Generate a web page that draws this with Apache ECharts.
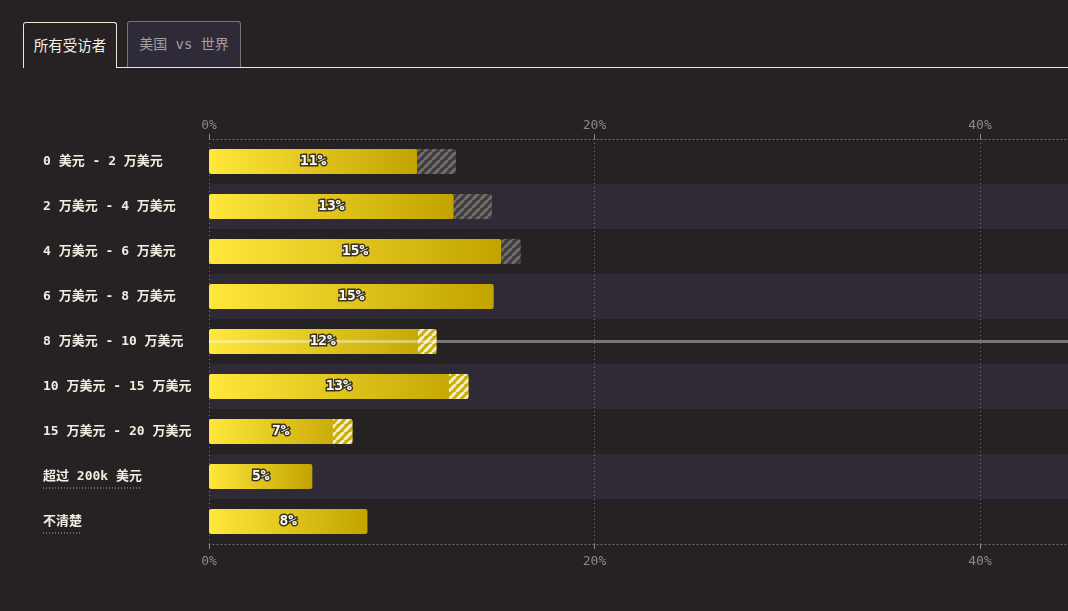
<!DOCTYPE html>
<html>
<head>
<meta charset="utf-8">
<script src="https://cdn.jsdelivr.net/npm/echarts@6/dist/echarts.min.js"></script>
<style>
  html, body { margin:0; padding:0; background:#262223; width:1068px; height:611px; overflow:hidden; }
  #chart { position:absolute; left:0; top:0; width:1068px; height:611px; }
  .tab { position:absolute; box-sizing:border-box; font-size:14.5px; display:flex; align-items:center; justify-content:center; padding-bottom:3px; }
  #tab1 { left:23px; top:22px; width:94px; height:46px; border:1px solid #ece6d4; border-bottom:none; border-radius:3px 3px 0 0; color:#f2ede0; background:#262223; z-index:3; font-family:"Noto Sans CJK SC","Noto Sans",sans-serif; }
  #tab2 { left:127px; top:21px; width:114px; height:46px; border:1px solid #78737b; border-bottom:none; border-radius:3px 3px 0 0; color:#a29ea2; background:#2f2a37; z-index:2; font-family:"DejaVu Sans Mono","Noto Sans CJK SC",monospace; font-size:14px; white-space:pre; }
  #baseline { position:absolute; left:116px; top:67px; width:952px; height:1px; background:#ece6d4; z-index:2; }
</style>
</head>
<body>
<div id="chart"></div>
<div class="tab" id="tab1">所有受访者</div>
<div class="tab" id="tab2">美国 vs 世界</div>
<div id="baseline"></div>
<script>
// ---- data ----
const categories = ['0 美元 - 2 万美元','2 万美元 - 4 万美元','4 万美元 - 6 万美元','6 万美元 - 8 万美元','8 万美元 - 10 万美元','10 万美元 - 15 万美元','15 万美元 - 20 万美元','超过 200k 美元','不清楚'];
const values   = [10.81, 12.70, 15.17, 14.77, 11.80, 13.46, 7.44, 5.36, 8.22];
const compare  = [12.81, 14.68, 16.17, 14.77, 10.84, 12.45, 6.43, 5.36, 8.22];
const underlined = ['超过 200k 美元', '不清楚'];
const highlighted = '8 万美元 - 10 万美元';
const xInterval = 20;

function makePattern(bg, fg, size, lw) {
  const c = document.createElement('canvas');
  c.width = size; c.height = size;
  const g = c.getContext('2d');
  g.fillStyle = bg; g.fillRect(0, 0, size, size);
  g.strokeStyle = fg; g.lineWidth = lw;
  g.beginPath();
  for (let k = -1; k <= 1; k++) {
    g.moveTo(k * size, size); g.lineTo(k * size + size, 0);
  }
  g.stroke();
  return c;
}
const greyHatch = makePattern('#403b3b', '#716d6d', 8, 3);
const whiteHatch = makePattern('#c8ad08', '#f4eec6', 8, 3);

const moreData  = values.map((v, i) => compare[i] > v ? +(compare[i] - v).toFixed(2) : '-');
const baseLess  = values.map((v, i) => compare[i] < v ? compare[i] : '-');
const lessData  = values.map((v, i) => compare[i] < v ? +(v - compare[i]).toFixed(2) : '-');

const mono = '"DejaVu Sans Mono","Noto Sans CJK SC",monospace';
const gradient = new echarts.graphic.LinearGradient(0, 0, 1, 0, [
  { offset: 0, color: '#ffe73c' }, { offset: 1, color: '#c2a300' }
]);

// the plot is wider than the window: 20% spans 385.5px, visible part ends at the window edge
const gridLeft = 209;
const pxPerUnit = 19.275;
const xMax = +((1068 - gridLeft) / pxPerUnit).toFixed(3);

const chart = echarts.init(document.getElementById('chart'));
const xAxisCommon = {
  type: 'value', min: 0, max: xMax, interval: xInterval,
  axisLine: { show: true, lineStyle: { color: '#7a7676', type: [1, 3], width: 1 } },
  axisTick: { show: true, length: 5, lineStyle: { color: '#8a8686' } },
  axisLabel: { color: '#8c8888', fontFamily: mono, fontSize: 13, showMaxLabel: false,
    formatter: v => (v % xInterval === 0 ? v + '%' : '') },
};
chart.setOption({
  backgroundColor: 'transparent',
  animation: false,
  grid: { left: gridLeft, top: 139, height: 405, right: 0 },
  xAxis: [
    Object.assign({}, xAxisCommon, { position: 'top',
      axisLabel: Object.assign({}, xAxisCommon.axisLabel, { margin: 7 }),
      splitLine: { show: true, lineStyle: { color: '#7a7676', type: [1, 3] } } }),
    Object.assign({}, xAxisCommon, { position: 'bottom',
      axisLabel: Object.assign({}, xAxisCommon.axisLabel, { margin: 11 }),
      splitLine: { show: false } })
  ],
  yAxis: {
    type: 'category', data: categories, inverse: true,
    axisLine: { show: false }, axisTick: { show: false },
    splitLine: { show: false },
    splitArea: { show: true, areaStyle: { color: ['rgba(0,0,0,0)', '#2f2a36'] } },
    axisLabel: { align: 'left', margin: 166, color: '#f2ede0', fontFamily: mono, fontWeight: 'bold', fontSize: 13, padding: [2, 0, 0, 0] }
  },
  series: [
    { type: 'bar', stack: 'a', data: values, barWidth: 25, barGap: '-100%', z: 2,
      itemStyle: { color: gradient, borderRadius: 2 } },
    { type: 'bar', stack: 'a', data: moreData, barWidth: 25, barGap: '-100%', z: 2,
      itemStyle: { color: { image: greyHatch, repeat: 'repeat' }, borderRadius: [0, 2, 2, 0] } },
    { type: 'bar', stack: 'b', data: baseLess, barWidth: 25, barGap: '-100%', z: 3,
      itemStyle: { color: 'rgba(0,0,0,0)' } },
    { type: 'bar', stack: 'b', data: lessData, barWidth: 25, barGap: '-100%', z: 3,
      itemStyle: { color: { image: whiteHatch, repeat: 'repeat' }, borderRadius: [0, 2, 2, 0] } },
    { type: 'bar', data: values, barWidth: 25, barGap: '-100%', z: 5,
      itemStyle: { color: 'rgba(0,0,0,0)' },
      label: { show: true, position: 'inside', formatter: p => Math.round(p.value) + '%',
        color: '#ffffff', fontFamily: mono, fontWeight: 'bold', fontSize: 14.5,
        textBorderColor: '#3a3322', textBorderWidth: 3, padding: [2, 0, 0, 0] },
      markLine: { silent: true, symbol: 'none', label: { show: false },
        lineStyle: { color: 'rgba(255,255,255,0.38)', width: 3, type: 'solid' },
        data: [{ yAxis: highlighted }] } }
  ]
});

// dotted underlines for some category labels
const mctx = document.createElement('canvas').getContext('2d');
mctx.font = 'bold 13px ' + mono;
const labelLeft = gridLeft - 166;
const graphics = underlined.map(name => {
  const y = chart.convertToPixel({ yAxisIndex: 0 }, name) + 11.5;
  const w = mctx.measureText(name).width;
  return { type: 'line', silent: true, shape: { x1: labelLeft, y1: y, x2: labelLeft + w, y2: y },
    style: { stroke: '#b5b0a8', lineWidth: 1, lineDash: [1, 2] } };
});
chart.setOption({ graphic: graphics });
</script>
</body>
</html>
